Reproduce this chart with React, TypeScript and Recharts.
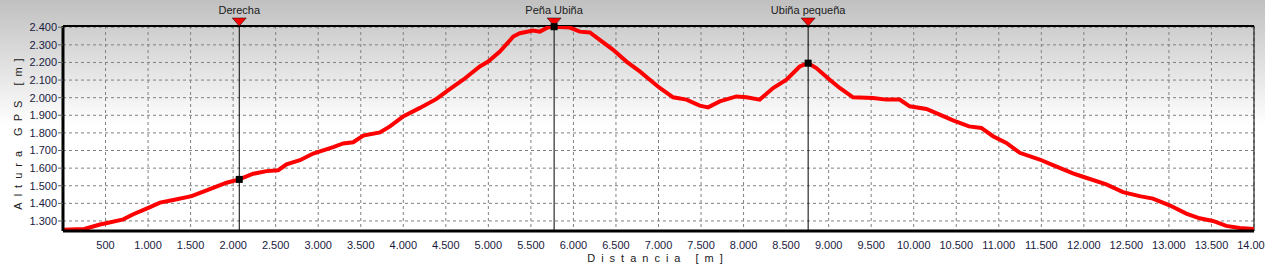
import React from 'react';
import {
  LineChart,
  Line,
  XAxis,
  YAxis,
  CartesianGrid,
  ReferenceLine,
  ReferenceDot,
} from 'recharts';

// distance [m] along the track
const distancia = [
  0, 250, 435, 505, 709, 826, 1010, 1140, 1296, 1512, 1688, 1923, 2072, 2236, 2393, 2530,
  2628, 2785, 2941, 3176, 3294, 3411, 3529, 3725, 3843, 3999, 4195, 4391, 4509, 4704,
  4900, 4998, 5135, 5292, 5370, 5527, 5605, 5703, 5773, 5958, 6075, 6193, 6310, 6467,
  6624, 6780, 6898, 7015, 7172, 7329, 7485, 7583, 7720, 7916, 8034, 8190, 8347, 8504,
  8660, 8759, 8855, 9013, 9130, 9287, 9522, 9679, 9835, 9953, 10149, 10306, 10462,
  10650, 10795, 10932, 11089, 11246, 11481, 11637, 11872, 11990, 12264, 12460, 12656,
  12812, 13008, 13204, 13361, 13517, 13674, 13830, 14000,
];

// GPS altitude [m]
const altura = [
  1250, 1255, 1280, 1287, 1309, 1338, 1376, 1404, 1419, 1441, 1474, 1517, 1536, 1568, 1583, 1588,
  1621, 1645, 1683, 1719, 1740, 1747, 1785, 1803, 1837, 1894, 1942, 1993, 2036, 2102,
  2177, 2205, 2262, 2347, 2366, 2381, 2375, 2400, 2403, 2398, 2375, 2370, 2328, 2272,
  2205, 2149, 2102, 2055, 2002, 1989, 1955, 1945, 1979, 2007, 2002, 1989, 2055, 2102,
  2177, 2196, 2168, 2102, 2055, 2002, 1998, 1989, 1989, 1951, 1936, 1904, 1871,
  1837, 1828, 1781, 1743, 1687, 1649, 1617, 1570, 1551, 1508, 1464, 1441,
  1427, 1389, 1342, 1315, 1300, 1272, 1260, 1255,
];

// waypoints
const puntosNombre = ['Derecha', 'Peña Ubiña', 'Ubiña pequeña'];
const puntosDistancia = [2072, 5773, 8759];
const puntosAltura = [1536, 2403, 2196];

const xTicks = Array.from({ length: 28 }, (_, i) => (i + 1) * 500);
const yTicks = [1300, 1400, 1500, 1600, 1700, 1800, 1900, 2000, 2100, 2200, 2300, 2400];

const data = distancia.map((d, i) => ({ d, h: altura[i] }));

const fmt = (n: number) => String(n).replace(/\B(?=(\d{3})+(?!\d))/g, '.');

const FONT = '"Liberation Sans", Arial, sans-serif';

const WaypointLabel = ({ viewBox, name }: any) => {
  const x = viewBox.x;
  const y = viewBox.y;
  return (
    <g>
      <polygon points={`${x - 7},${y - 8} ${x + 7},${y - 8} ${x},${y}`} fill="#ff0000" stroke="#000" strokeWidth={0.5} />
      <text x={x} y={y - 12} textAnchor="middle" fontSize={11} fontFamily={FONT} fill="#202020">
        {name}
      </text>
    </g>
  );
};

export default function App() {
  return (
    <div
      style={{
        position: 'absolute',
        left: 0,
        top: 0,
        width: 1265,
        height: 267,
        background: 'linear-gradient(to bottom, #c0c0c0 0px, #ffffff 125px, #ffffff 267px)',
        fontFamily: FONT,
      }}
    >
      <LineChart width={1265} height={267} data={data} margin={{ top: 26, right: 11, left: 0, bottom: 0 }}>
        <CartesianGrid stroke="#808080" strokeDasharray="3 3" />
        <XAxis
          dataKey="d"
          type="number"
          domain={[0, 14000]}
          ticks={xTicks}
          height={36}
          tickFormatter={fmt}
          tickLine={false}
          axisLine={{ stroke: '#000', strokeWidth: 3 }}
          tick={{ fill: '#1a1a40', fontSize: 11, fontFamily: FONT }}
          tickMargin={4}
          interval={0}
        />
        <YAxis
          type="number"
          domain={[1243, 2407]}
          allowDataOverflow
          ticks={yTicks}
          width={63}
          tickFormatter={fmt}
          tickSize={5}
          tickMargin={1}
          tickLine={{ stroke: '#606060' }}
          axisLine={{ stroke: '#000', strokeWidth: 3 }}
          tick={{ fill: '#1a1a40', fontSize: 11, fontFamily: FONT }}
          interval={0}
        />
        <ReferenceLine y={2407} stroke="#000" strokeWidth={2} ifOverflow="visible" />
        <ReferenceLine x={14000} stroke="#000" strokeWidth={1} ifOverflow="visible" />
        <Line
          dataKey="h"
          type="linear"
          stroke="#ff0000"
          strokeWidth={4}
          dot={false}
          activeDot={false}
          isAnimationActive={false}
        />
        {puntosNombre.map((name, i) => (
          <ReferenceLine
            key={name}
            x={puntosDistancia[i]}
            stroke="#000"
            strokeWidth={1}
            label={(props: any) => <WaypointLabel {...props} name={name} />}
          />
        ))}
        {puntosNombre.map((name, i) => (
          <ReferenceDot
            key={'dot-' + name}
            x={puntosDistancia[i]}
            y={puntosAltura[i]}
            r={4}
            shape={(p: any) => <rect x={p.cx - 3.5} y={p.cy - 3.5} width={7} height={7} fill="#000" />}
          />
        ))}
        <text
          x={658}
          y={262}
          textAnchor="middle"
          fontSize={11}
          fontFamily={FONT}
          fill="#202020"
          letterSpacing={6}
        >
          Distancia [m]
        </text>
        <text
          x={22}
          y={131}
          textAnchor="middle"
          fontSize={11}
          fontFamily={FONT}
          fill="#202020"
          letterSpacing={6}
          transform="rotate(-90 22 131)"
        >
          Altura GPS [m]
        </text>
      </LineChart>
    </div>
  );
}
